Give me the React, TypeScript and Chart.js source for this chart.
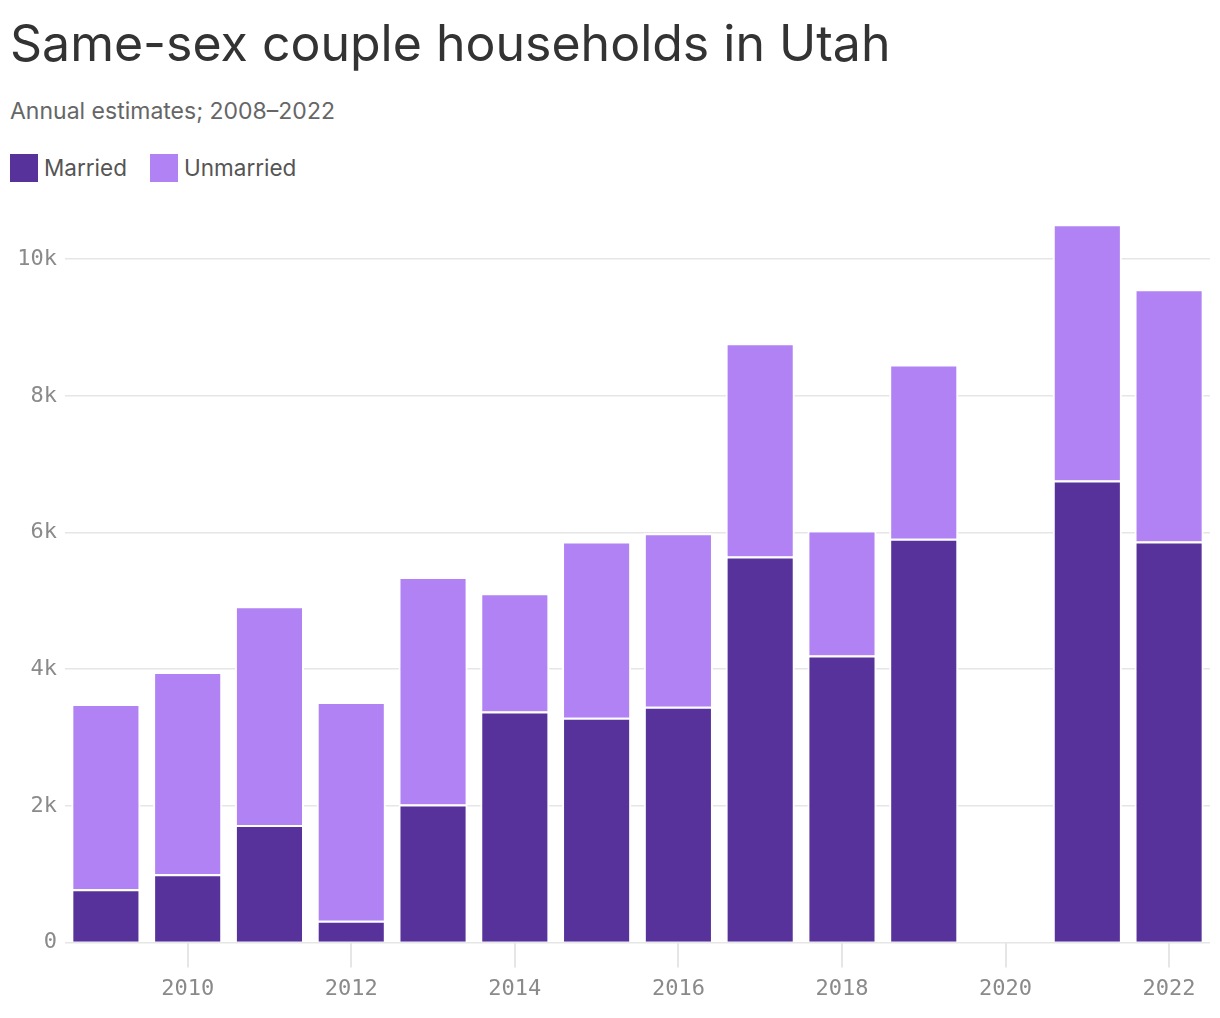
import { useEffect, useRef } from "react";
import { Chart, registerables } from "chart.js";

Chart.register(...registerables);

// Annual estimates (2020 has no estimate)
const YEARS = [2009, 2010, 2011, 2012, 2013, 2014, 2015, 2016, 2017, 2018, 2019, 2020, 2021, 2022];
const MARRIED: (number | null)[] = [780, 1000, 1720, 320, 2020, 3380, 3290, 3450, 5650, 4200, 5910, null, 6760, 5870];
const UNMARRIED: (number | null)[] = [2710, 2960, 3200, 3200, 3330, 1730, 2580, 2540, 3120, 1830, 2550, null, 3750, 3690];

const X_TICKS = [2010, 2012, 2014, 2016, 2018, 2020, 2022];
const Y_TICKS = [0, 2000, 4000, 6000, 8000, 10000];

const DARK = "#56329a";
const LIGHT = "#b082f4";
const GRID = "#e6e6e6";
const TICK_TEXT = "#8a8a8a";
const SANS = "Inter, 'Noto Sans', sans-serif";
const MONO = "'DejaVu Sans Mono', monospace";

function StackedBars() {
  const canvasRef = useRef<HTMLCanvasElement>(null);
  const chartRef = useRef<Chart | null>(null);

  useEffect(() => {
    if (!canvasRef.current) return;
    chartRef.current?.destroy();

    const points = (vals: (number | null)[]) => YEARS.map((x, i) => ({ x, y: vals[i] }));

    chartRef.current = new Chart(canvasRef.current, {
      type: "bar",
      data: {
        datasets: [
          { label: "Married", data: points(MARRIED), backgroundColor: DARK },
          { label: "Unmarried", data: points(UNMARRIED), backgroundColor: LIGHT },
        ],
      },
      options: {
        responsive: false,
        animation: false,
        layout: { padding: { top: 25, right: 10, left: 0, bottom: 8 } },
        datasets: {
          bar: {
            borderColor: "#ffffff",
            borderWidth: 2,
            categoryPercentage: 1,
            barPercentage: 0.845,
          },
        },
        scales: {
          x: {
            type: "linear",
            stacked: true,
            min: 2008.5,
            max: 2022.5,
            offset: false,
            border: { display: false },
            grid: { offset: false, drawOnChartArea: false, drawTicks: true, tickLength: 25, color: GRID, lineWidth: 2 },
            afterBuildTicks: (scale) => { scale.ticks = X_TICKS.map(value => ({ value })); },
            ticks: {
              color: TICK_TEXT,
              font: { family: MONO, size: 22 },
              padding: 8,
              maxRotation: 0,
              autoSkip: false,
              callback: (v) => String(v),
            },
          },
          y: {
            stacked: true,
            min: 0,
            max: 10500,
            border: { display: false },
            grid: { color: GRID, lineWidth: 1.5, drawTicks: false },
            afterBuildTicks: (scale) => { scale.ticks = Y_TICKS.map(value => ({ value })); },
            afterFit: (scale) => { scale.width = 65; },
            ticks: {
              color: TICK_TEXT,
              font: { family: MONO, size: 22 },
              padding: 8,
              callback: (v) => (Number(v) === 0 ? "0" : `${Number(v) / 1000}k`),
            },
          },
        },
        plugins: {
          legend: { display: false },
          tooltip: { enabled: false },
        },
      },
    });

    return () => {
      chartRef.current?.destroy();
      chartRef.current = null;
    };
  }, []);

  return <canvas ref={canvasRef} width={1220} height={818} style={{ position: "absolute", left: 0, top: 200 }} />;
}

export default function App() {
  useEffect(() => { document.body.style.margin = "0"; }, []);

  const swatch = (left: number, color: string) => (
    <div style={{ position: "absolute", left, top: 154, width: 28, height: 28, background: color }} />
  );

  return (
    <div style={{ position: "relative", width: 1220, height: 1018, background: "#fff", fontFamily: SANS }}>
      <div style={{ position: "absolute", left: 10, top: 18, fontSize: 50, lineHeight: 1, color: "#333" }}>
        Same-sex couple households in Utah
      </div>
      <div style={{ position: "absolute", left: 10, top: 100, fontSize: 23, lineHeight: 1, color: "#666" }}>
        Annual estimates; 2008–2022
      </div>
      {swatch(10, DARK)}
      <div style={{ position: "absolute", left: 44, top: 157, fontSize: 22.5, lineHeight: 1, color: "#555" }}>Married</div>
      {swatch(150, LIGHT)}
      <div style={{ position: "absolute", left: 184, top: 157, fontSize: 22.5, lineHeight: 1, color: "#555" }}>Unmarried</div>
      <StackedBars />
    </div>
  );
}
